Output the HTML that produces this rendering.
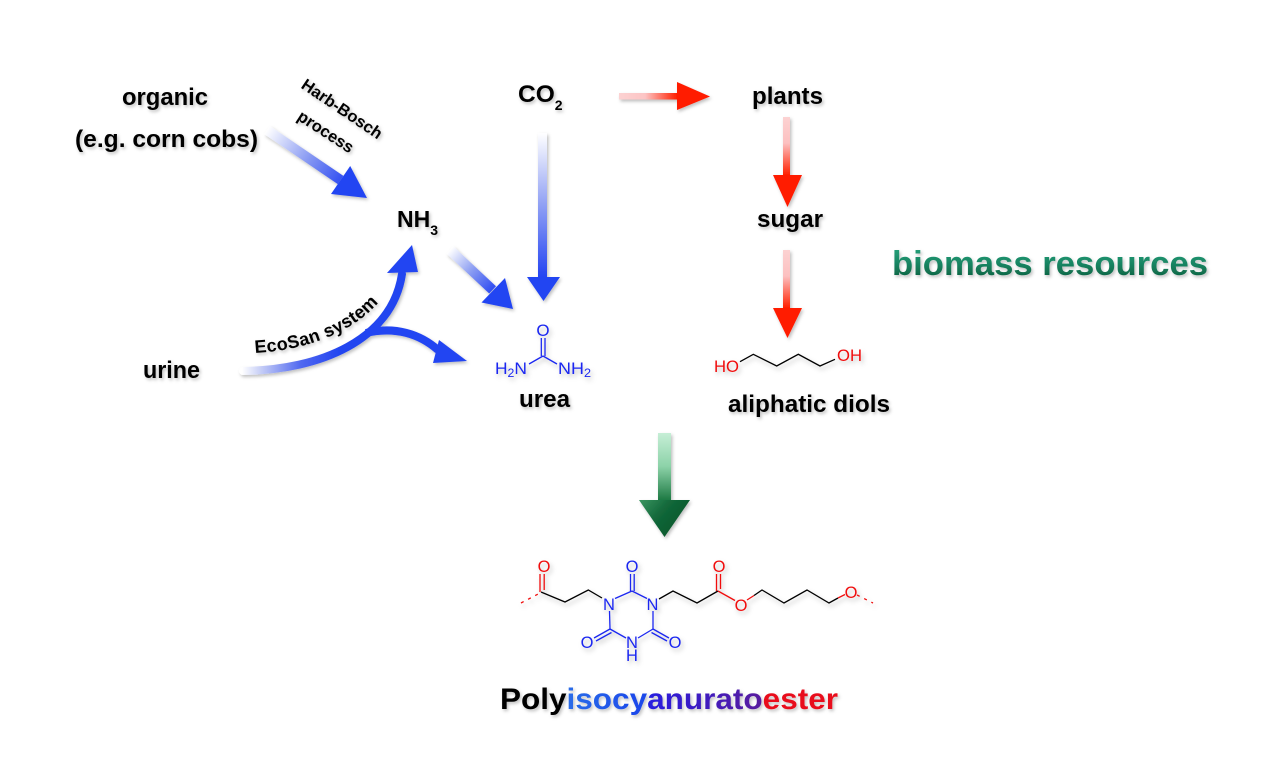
<!DOCTYPE html>
<html>
<head>
<meta charset="utf-8">
<style>
  html,body{margin:0;padding:0;background:#fff;}
  svg{display:block;}
  .lb{font-family:"Liberation Sans",Arial,sans-serif;font-weight:bold;fill:#000;}
  .at{font-family:"Liberation Sans",Arial,sans-serif;font-weight:normal;}
</style>
</head>
<body>
<svg width="1267" height="761" viewBox="0 0 1267 761" xmlns="http://www.w3.org/2000/svg">
<defs>
  <filter id="sh" x="-20%" y="-20%" width="140%" height="160%">
    <feDropShadow dx="1.5" dy="2" stdDeviation="1.5" flood-color="#000" flood-opacity="0.25"/>
  </filter>
  <filter id="msh" x="-10%" y="-10%" width="120%" height="130%">
    <feDropShadow dx="2" dy="3" stdDeviation="2.5" flood-color="#000" flood-opacity="0.25"/>
  </filter>
  <linearGradient id="gHB" gradientUnits="userSpaceOnUse" x1="267" y1="130" x2="345" y2="183">
    <stop offset="0" stop-color="#ffffff"/>
    <stop offset="0.55" stop-color="#8496f2"/>
    <stop offset="1" stop-color="#2a48f2"/>
  </linearGradient>
  <linearGradient id="gNU" gradientUnits="userSpaceOnUse" x1="450" y1="250" x2="495" y2="290">
    <stop offset="0" stop-color="#ffffff"/>
    <stop offset="0.5" stop-color="#8a9cf2"/>
    <stop offset="1" stop-color="#2a48f2"/>
  </linearGradient>
  <linearGradient id="gCO" gradientUnits="userSpaceOnUse" x1="0" y1="133" x2="0" y2="277">
    <stop offset="0" stop-color="#ffffff"/>
    <stop offset="0.5" stop-color="#90a0f4"/>
    <stop offset="1" stop-color="#2444f2"/>
  </linearGradient>
  <linearGradient id="gEco" gradientUnits="userSpaceOnUse" x1="242" y1="0" x2="340" y2="0">
    <stop offset="0" stop-color="#ffffff"/>
    <stop offset="0.2" stop-color="#c4ccf6"/>
    <stop offset="0.6" stop-color="#5068f0"/>
    <stop offset="1" stop-color="#2244f0"/>
  </linearGradient>
  <linearGradient id="gRH" gradientUnits="userSpaceOnUse" x1="619" y1="0" x2="677" y2="0">
    <stop offset="0" stop-color="#fcd2d2"/>
    <stop offset="0.45" stop-color="#fcc4c4"/>
    <stop offset="1" stop-color="#ff2000"/>
  </linearGradient>
  <linearGradient id="gRV1" gradientUnits="userSpaceOnUse" x1="0" y1="117" x2="0" y2="175">
    <stop offset="0" stop-color="#fcd2d2"/>
    <stop offset="0.45" stop-color="#fcc0c0"/>
    <stop offset="1" stop-color="#ff2000"/>
  </linearGradient>
  <linearGradient id="gRV2" gradientUnits="userSpaceOnUse" x1="0" y1="250" x2="0" y2="308">
    <stop offset="0" stop-color="#fcd2d2"/>
    <stop offset="0.45" stop-color="#fcc0c0"/>
    <stop offset="1" stop-color="#ff2000"/>
  </linearGradient>
  <linearGradient id="gGS" gradientUnits="userSpaceOnUse" x1="0" y1="433" x2="0" y2="500">
    <stop offset="0" stop-color="#c6eed6"/>
    <stop offset="0.5" stop-color="#8cd2a8"/>
    <stop offset="1" stop-color="#1e7a44"/>
  </linearGradient>
  <linearGradient id="gGH" gradientUnits="userSpaceOnUse" x1="640" y1="500" x2="680" y2="535">
    <stop offset="0" stop-color="#3a9460"/>
    <stop offset="0.45" stop-color="#12683a"/>
    <stop offset="1" stop-color="#0b5428"/>
  </linearGradient>
  <linearGradient id="gBio" x1="0" y1="0" x2="0" y2="1">
    <stop offset="0" stop-color="#2aa67e"/>
    <stop offset="0.5" stop-color="#188462"/>
    <stop offset="1" stop-color="#0a5636"/>
  </linearGradient>
  <linearGradient id="gIso" gradientUnits="userSpaceOnUse" x1="565" y1="0" x2="640" y2="0">
    <stop offset="0" stop-color="#2a6ee8"/>
    <stop offset="1" stop-color="#1c48ea"/>
  </linearGradient>
  <linearGradient id="gAnu" gradientUnits="userSpaceOnUse" x1="640" y1="0" x2="765" y2="0">
    <stop offset="0" stop-color="#2420e4"/>
    <stop offset="1" stop-color="#5a1a9c"/>
  </linearGradient>
  <path id="ecoPath" d="M255,353 C 310,350 360,330 385,294" fill="none"/>
</defs>

<rect width="1267" height="761" fill="#fff"/>

<!-- ================= ARROWS ================= -->
<g filter="url(#sh)">
  <polygon points="264.2,134.1 269.8,125.9 343.4,175.9 337.8,184.1" fill="url(#gHB)"/>
  <polygon points="331,194 350.2,166 367,198" fill="#2444f2"/>

  <polygon points="446.6,253.7 453.4,246.3 496.0,286.2 489.2,293.5" fill="url(#gNU)"/>
  <polygon points="481.5,302.5 505,278 513,309" fill="#2444f2"/>

  <rect x="538" y="133" width="9" height="145" fill="url(#gCO)"/>
  <polygon points="527,277 560,277 543.5,301" fill="#2444f2"/>

  <path d="M243,371 C 320,370 392,340 402,274" fill="none" stroke="url(#gEco)" stroke-width="8" stroke-linecap="round"/>
  <polygon points="387,273 412,245 418,272" fill="#2444f2"/>

  <path d="M366,333 C 395,326 420,334 438,350" fill="none" stroke="#2444f2" stroke-width="8"/>
  <polygon points="439,340 467,361 433,363" fill="#2444f2"/>

  <rect x="619" y="93" width="59" height="6.5" fill="url(#gRH)"/>
  <polygon points="677,82 710,96.5 677,110" fill="#ff1a00"/>

  <rect x="783" y="117" width="7" height="59" fill="url(#gRV1)"/>
  <polygon points="773,175 802,175 787.5,207" fill="#ff1a00"/>

  <rect x="783" y="250" width="7" height="59" fill="url(#gRV2)"/>
  <polygon points="773,308 802,308 787.5,338" fill="#ff1a00"/>

  <rect x="658" y="433" width="13" height="68" fill="url(#gGS)"/>
  <polygon points="639,500 690,500 664.5,537" fill="url(#gGH)"/>
</g>

<!-- ================= LABELS ================= -->
<g class="lb" filter="url(#sh)">
  <text x="122" y="105" font-size="24" textLength="86" lengthAdjust="spacingAndGlyphs">organic</text>
  <text x="75" y="147" font-size="24" textLength="183" lengthAdjust="spacingAndGlyphs">(e.g. corn cobs)</text>

  <g transform="translate(342,109) rotate(34)">
    <text x="0" y="5.5" font-size="16.5" text-anchor="middle">Harb-Bosch</text>
  </g>
  <g transform="translate(325,133) rotate(33)">
    <text x="0" y="4" font-size="16.5" text-anchor="middle">process</text>
  </g>

  <text x="397" y="227" font-size="23">NH<tspan font-size="14" dy="8">3</tspan></text>
  <text x="518" y="102" font-size="24.5">CO<tspan font-size="14" dy="8">2</tspan></text>

  <text x="752" y="104" font-size="24" textLength="71" lengthAdjust="spacingAndGlyphs">plants</text>
  <text x="757" y="227" font-size="24" textLength="66" lengthAdjust="spacingAndGlyphs">sugar</text>
  <text x="143" y="378" font-size="24" textLength="57" lengthAdjust="spacingAndGlyphs">urine</text>
  <text x="519" y="407" font-size="24" textLength="51" lengthAdjust="spacingAndGlyphs">urea</text>
  <text x="728" y="412" font-size="24" textLength="162" lengthAdjust="spacingAndGlyphs">aliphatic diols</text>

  <text font-size="18" letter-spacing="0.3"><textPath href="#ecoPath">EcoSan system</textPath></text>
</g>

<text x="892" y="275" font-size="34" class="lb" style="fill:url(#gBio)" textLength="316" lengthAdjust="spacingAndGlyphs" filter="url(#sh)">biomass resources</text>

<text x="500" y="709" font-size="30" class="lb" textLength="338" lengthAdjust="spacingAndGlyphs" filter="url(#sh)"><tspan fill="#000">Poly</tspan><tspan style="fill:url(#gIso)">isocy</tspan><tspan style="fill:url(#gAnu)">anurato</tspan><tspan fill="#e8101c">ester</tspan></text>

<!-- ================= UREA ================= -->
<g filter="url(#msh)" class="at">
  <g stroke="#1a28f0" stroke-width="1.3" fill="none">
    <line x1="541.3" y1="338" x2="541.3" y2="356"/>
    <line x1="545" y1="338" x2="545" y2="356"/>
    <line x1="543" y1="356" x2="529" y2="364"/>
    <line x1="543" y1="356" x2="557" y2="364"/>
  </g>
  <text x="543" y="336" font-size="17" fill="#1a28f0" text-anchor="middle">O</text>
  <text x="495" y="374" font-size="17" fill="#1a28f0" textLength="32" lengthAdjust="spacingAndGlyphs">H<tspan font-size="12" dy="3">2</tspan><tspan dy="-3">N</tspan></text>
  <text x="558" y="374" font-size="17" fill="#1a28f0" textLength="33" lengthAdjust="spacingAndGlyphs">NH<tspan font-size="12" dy="3">2</tspan></text>
</g>

<!-- ================= DIOL ================= -->
<g filter="url(#msh)" class="at">
  <polyline points="740,361.7 753.3,354.3 776.7,366 798.3,354.3 820,366 835,359.3" fill="none" stroke="#000" stroke-width="1.3"/>
  <text x="714" y="372" font-size="17" fill="#f01010" textLength="25" lengthAdjust="spacingAndGlyphs">HO</text>
  <text x="837" y="361" font-size="17" fill="#f01010" textLength="25" lengthAdjust="spacingAndGlyphs">OH</text>
</g>

<!-- ================= POLYMER ================= -->
<g filter="url(#msh)" class="at">
  <line x1="521" y1="603" x2="540" y2="593" stroke="#f01010" stroke-width="1.3" stroke-dasharray="3,5"/>
  <line x1="540" y1="574" x2="540" y2="592" stroke="#f01010" stroke-width="1.3"/>
  <line x1="544.2" y1="574" x2="544.2" y2="590" stroke="#f01010" stroke-width="1.3"/>
  <polyline points="541,592 565,602 588.3,590 602,598" fill="none" stroke="#000" stroke-width="1.3"/>
  <g stroke="#1a28f0" stroke-width="1.3" fill="none">
    <line x1="615" y1="598.5" x2="632" y2="591"/>
    <line x1="632" y1="591" x2="647" y2="598.5"/>
    <line x1="630.5" y1="574" x2="630.5" y2="591"/>
    <line x1="634.2" y1="574" x2="634.2" y2="591"/>
    <line x1="609.5" y1="611" x2="610" y2="629"/>
    <line x1="653" y1="611" x2="653" y2="629"/>
    <line x1="610" y1="629" x2="626" y2="638"/>
    <line x1="653" y1="629" x2="638" y2="638"/>
    <line x1="610" y1="629" x2="594" y2="638"/>
    <line x1="611.5" y1="632.5" x2="596" y2="641"/>
    <line x1="653" y1="629" x2="669" y2="638"/>
    <line x1="651.5" y1="632.5" x2="667" y2="641"/>
  </g>
  <polyline points="659,599 673,591 697,603 718,591" fill="none" stroke="#000" stroke-width="1.3"/>
  <line x1="716.5" y1="574" x2="716.5" y2="591" stroke="#f01010" stroke-width="1.3"/>
  <line x1="720.5" y1="574" x2="720.5" y2="589" stroke="#f01010" stroke-width="1.3"/>
  <line x1="718" y1="591" x2="735" y2="600.5" stroke="#f01010" stroke-width="1.3"/>
  <line x1="747" y1="600" x2="754" y2="595.5" stroke="#f01010" stroke-width="1.3"/>
  <polyline points="754,595.5 762,590 784,603 807,590 829,603 838,598" fill="none" stroke="#000" stroke-width="1.3"/>
  <line x1="838" y1="598" x2="845" y2="594.5" stroke="#f01010" stroke-width="1.3"/>
  <line x1="857" y1="595" x2="873" y2="603" stroke="#f01010" stroke-width="1.3" stroke-dasharray="3,5"/>

  <g font-size="16.5" text-anchor="middle">
    <text x="544" y="572" fill="#f01010">O</text>
    <text x="632" y="572" fill="#1a28f0">O</text>
    <text x="609" y="610" fill="#1a28f0">N</text>
    <text x="652.5" y="610" fill="#1a28f0">N</text>
    <text x="632" y="648" fill="#1a28f0">N</text>
    <text x="632" y="661" fill="#1a28f0">H</text>
    <text x="587" y="648" fill="#1a28f0">O</text>
    <text x="675" y="648" fill="#1a28f0">O</text>
    <text x="719" y="572" fill="#f01010">O</text>
    <text x="741" y="611" fill="#f01010">O</text>
    <text x="851" y="598" fill="#f01010">O</text>
  </g>
</g>
</svg>
</body>
</html>
